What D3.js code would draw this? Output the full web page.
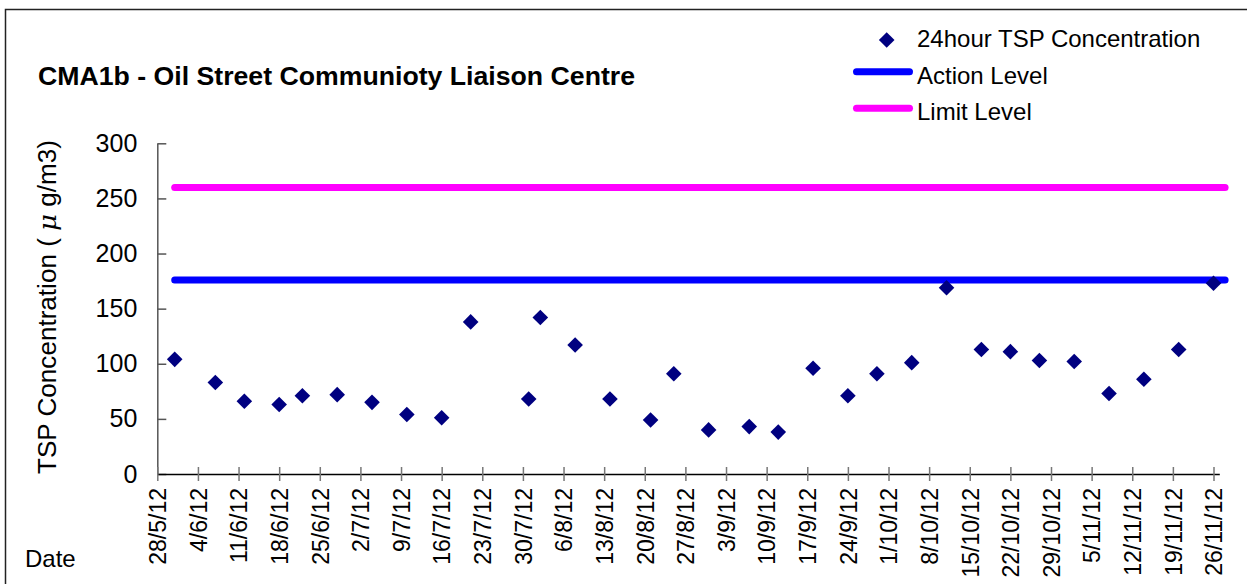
<!DOCTYPE html>
<html><head><meta charset="utf-8">
<script src="https://cdn.jsdelivr.net/npm/d3@7"></script>
<style>
body{margin:0;background:#fff}
svg{display:block}
text{font-family:Arial,"Liberation Sans",sans-serif;fill:#000}
</style>
</head><body>
<svg id="c" width="1247" height="584"></svg>
<script>
const sampleDates = ["31/5/12","7/6/12","12/6/12","18/6/12","22/6/12","28/6/12","4/7/12","10/7/12","16/7/12","21/7/12",
  "31/7/12","2/8/12","8/8/12","14/8/12","21/8/12","25/8/12","31/8/12","7/9/12","12/9/12","18/9/12","24/9/12","29/9/12",
  "5/10/12","11/10/12","17/10/12","22/10/12","27/10/12","2/11/12","8/11/12","14/11/12","20/11/12","26/11/12"];
const tspValues = [104,83,66,63,71,72,65,54,51,138,68,142,117,68,49,91,40,43,38,96,71,91,101,169,113,111,103,102,73,86,113,173];
const actionLevel = 176;
const limitLevel = 260;
const levelSpan = ["31/5/12","28/11/12"];
const xTickLabels = ["28/5/12","4/6/12","11/6/12","18/6/12","25/6/12","2/7/12","9/7/12","16/7/12","23/7/12","30/7/12",
  "6/8/12","13/8/12","20/8/12","27/8/12","3/9/12","10/9/12","17/9/12","24/9/12","1/10/12","8/10/12","15/10/12",
  "22/10/12","29/10/12","5/11/12","12/11/12","19/11/12","26/11/12"];
const xDomain = ["28/5/12","27/11/12"];
const yTickValues = [0,50,100,150,200,250,300];
const seriesNames = ["24hour TSP Concentration","Action Level","Limit Level"];

const parse = d3.timeParse("%d/%m/%y");
const svg = d3.select("#c");

// outer frame
svg.append("rect").attr("x",5.5).attr("y",9.5).attr("width",1300).attr("height",700)
  .attr("fill","none").attr("stroke","#222").attr("stroke-width",1.5);

const x = d3.scaleTime().domain(xDomain.map(parse)).range([157.3,1219.3]);
const y = d3.scaleLinear().domain([0,300]).range([474,143.3]);

// title
svg.append("text").attr("x",38).attr("y",85).attr("font-weight","bold").attr("font-size",25)
  .attr("textLength",597).attr("lengthAdjust","spacingAndGlyphs")
  .text("CMA1b - Oil Street Communioty Liaison Centre");

// level lines
const lvl = [{v:limitLevel,c:"#FF00FF"},{v:actionLevel,c:"#0000FF"}];
const lineGen = d3.line().x(d=>x(d[0])).y(d=>y(d[1]));
lvl.forEach(l=>{
  svg.append("path").attr("d",lineGen(levelSpan.map(s=>[parse(s),l.v])))
    .attr("stroke",l.c).attr("stroke-width",7).attr("stroke-linecap","round").attr("fill","none");
});

// y axis
const yAxis = d3.axisLeft(y).tickValues(yTickValues).tickSizeInner(-9).tickSizeOuter(0).tickPadding(20);
const gy = svg.append("g").attr("transform","translate(157.3,0)").call(yAxis);
gy.select(".domain").attr("stroke","#555").attr("stroke-width",1.5);
gy.selectAll(".tick line").attr("stroke","#555").attr("stroke-width",1.5);
gy.selectAll(".tick text").attr("font-size",25).attr("font-family","Arial, 'Liberation Sans', sans-serif").attr("fill","#000");

// x axis
const xAxis = d3.axisBottom(x).tickValues(xTickLabels.map(parse)).tickFormat((d,i)=>xTickLabels[i]).tickSizeInner(7).tickSizeOuter(0);
const gx = svg.append("g").attr("transform","translate(0,474)").call(xAxis);
gx.select(".domain").attr("stroke","#000").attr("stroke-width",1.5);
gx.selectAll(".tick line").attr("y1",-7).attr("y2",7).attr("stroke","#777").attr("stroke-width",1.5);
gx.selectAll(".tick text").attr("font-size",23).attr("font-family","Arial, 'Liberation Sans', sans-serif").attr("fill","#000")
  .attr("transform","rotate(-90)").attr("text-anchor","end").attr("x",-14).attr("y",0).attr("dy","0.36em");

// y title
const yt = svg.append("text").attr("transform","translate(56,474) rotate(-90)").attr("font-size",25)
  .attr("textLength",334).attr("lengthAdjust","spacingAndGlyphs");
yt.append("tspan").text("TSP Concentration ( ");
yt.append("tspan").attr("font-family","'DejaVu Serif'").attr("font-style","italic").text("μ");
yt.append("tspan").text(" g/m3)");

// x title
svg.append("text").attr("x",25).attr("y",567).attr("font-size",24).text("Date");

// points
const diamond = "M0,-7.8L7.8,0L0,7.8L-7.8,0Z";
svg.append("g").selectAll("path").data(sampleDates.map((d,i)=>({d:parse(d),v:tspValues[i]})))
  .join("path").attr("d",diamond).attr("transform",d=>`translate(${x(d.d)},${y(d.v)})`).attr("fill","#000080");

// legend
const lg = svg.append("g");
lg.append("path").attr("d",diamond).attr("transform","translate(886.7,40)").attr("fill","#000080");
lg.append("text").attr("x",917).attr("y",47).attr("font-size",24).text(seriesNames[0]);
lg.append("line").attr("x1",856.5).attr("x2",909.5).attr("y1",71.7).attr("y2",71.7).attr("stroke","#0000FF").attr("stroke-width",7).attr("stroke-linecap","round");
lg.append("text").attr("x",917).attr("y",83.5).attr("font-size",24).text(seriesNames[1]);
lg.append("line").attr("x1",856.5).attr("x2",909.5).attr("y1",108.3).attr("y2",108.3).attr("stroke","#FF00FF").attr("stroke-width",7).attr("stroke-linecap","round");
lg.append("text").attr("x",917).attr("y",120).attr("font-size",24).text(seriesNames[2]);
</script>
</body></html>
